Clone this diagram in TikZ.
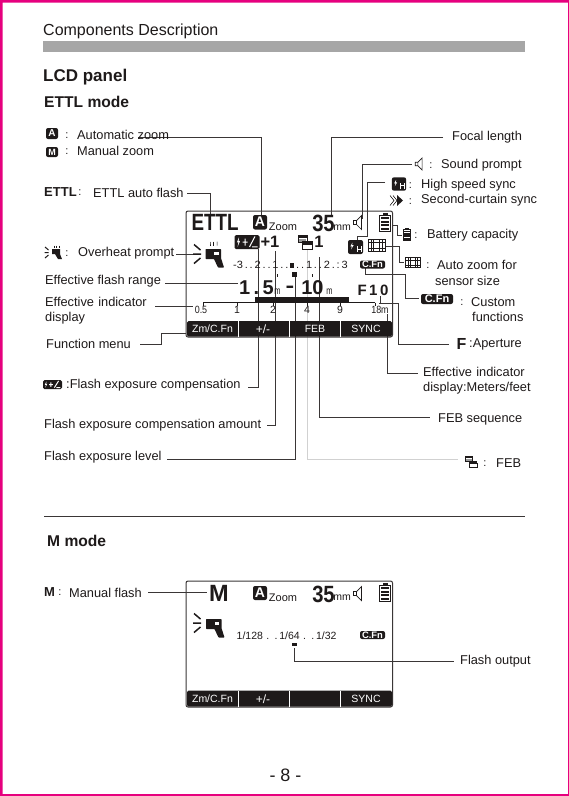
\documentclass[tikz,border=0pt]{standalone}
\usepackage{fontspec}
\setmainfont{Liberation Sans}
\usetikzlibrary{calc}
\definecolor{ink}{HTML}{1E1A1A}
\definecolor{lin}{HTML}{3A3636}
\definecolor{edgepink}{HTML}{E6007E}
\newcommand{\sxx}[2]{\scalebox{#1}[1]{#2}}
\tikzset{x=1pt,y=-1pt,
 lab/.style={inner sep=0,anchor=west,text=ink,font=\fontsize{12.8}{15.3}\selectfont,align=left},
 colon/.style={inner sep=0,text=ink,font=\fontsize{11}{11}\selectfont},
 head/.style={inner sep=0,anchor=west,text=ink,font=\fontsize{15.6}{18}\selectfont\bfseries},
 lead/.style={draw=lin,line width=.75pt},
 lcd/.style={draw=lin,line width=1pt,rounded corners=2pt},
 lt/.style={inner sep=0,text=ink,font=\fontsize{10.5}{11}\selectfont},
 bigt/.style={inner sep=0,text=ink,font=\fontsize{23.5}{24}\selectfont\bfseries},
 midt/.style={inner sep=0,text=ink,font=\fontsize{20}{20}\selectfont\bfseries},
 chip/.style={fill=ink,text=white,rounded corners=2pt,inner sep=0,align=center,font=\bfseries},
 menu/.style={text=white,inner sep=0,anchor=center,font=\fontsize{10.5}{11}\selectfont},
}
\newcommand{\iconspk}[2][1]{\begin{scope}[shift={#2},scale=#1]\draw[ink,line width=.7pt] (-5.5,-2) rectangle (-2.5,2) (-2.5,-2) -- (2.5,-7) -- (2.5,7) -- (-2.5,2);\end{scope}}
\newcommand{\iconbat}[2][1]{\begin{scope}[shift={#2},scale=#1]\draw[ink,line width=1pt] (-5.5,-7) rectangle (5.5,9);\fill[ink] (-2.5,-9) rectangle (2.5,-7);\foreach \yy in {-5,-1.5,2,5.5}{\fill[ink] (-3.8,\yy) rectangle (3.8,\yy+2.4);}\end{scope}}
\newcommand{\iconfilm}[2][1]{\begin{scope}[shift={#2},scale=#1]\draw[ink,line width=.8pt] (-8.5,-6) rectangle (8.5,6);\foreach \xx in {-5.5,-3,3,5.5}{\draw[ink,line width=.6pt] (\xx,-6) -- (\xx,6);}\draw[ink,line width=.6pt] (-8.5,-3) -- (8.5,-3) (-8.5,3) -- (8.5,3);\end{scope}}
\newcommand{\icongun}[1]{\begin{scope}[shift={#1}]\fill[ink,rounded corners=.6pt] (-9.5,-9) -- (6,-9) -- (6,0) -- (9,9.5) -- (3,9.5) -- (-1,1) -- (-9.5,1) -- cycle;\fill[white] (-1,-6.5) rectangle (3.5,-3);\end{scope}}
\newcommand{\iconrays}[1]{\begin{scope}[shift={#1}]\draw[ink,line width=1.5pt] (-3.5,-9.5) -- (3,-4) (-4.5,0) -- (3.5,0) (-3.5,9.5) -- (3,4);\end{scope}}
\newcommand{\iconfeb}[2][1]{\begin{scope}[shift={#2},scale=#1]\draw[ink,line width=.8pt] (-7,-7) rectangle (2,0);\fill[ink] (-6.5,-6.5) rectangle (1.5,-4);\fill[black!40] (-6,-3.5) rectangle (1,-.5);\fill[ink] (-3,-1) rectangle (8,2);\draw[ink,line width=1pt,fill=white] (-2.5,2) rectangle (7.5,7);\end{scope}}
\newcommand{\iconbolt}[1]{\fill[white,shift={#1}] (.5,-3.4) -- (-1.6,.3) -- (-.1,.3) -- (-.9,3.4) -- (1.6,-.8) -- (.1,-.8) -- cycle;}
\newcommand{\iconfec}[3][1]{\begin{scope}[shift={#2},xscale=#1,yscale=#3]\fill[ink,rounded corners=1.5pt] (-12.5,-5) rectangle (12.5,5);\iconbolt{(-8.5,0)}\draw[white,line width=1pt] (-4.5,0) -- (.5,0) (-2,-2.5) -- (-2,2.5) (8,-4) -- (2.5,3.5) (5,3.5) -- (10.5,3.5);\end{scope}}
\newcommand{\iconhs}[2][1]{\begin{scope}[shift={#2},scale=#1]\fill[ink,rounded corners=2pt] (-7.5,-7) rectangle (7.5,7);\iconbolt{(-3.5,-1)}\draw[white,line width=.9pt] (1.5,-1) -- (1.5,5) (5.5,-1) -- (5.5,5) (1.5,2) -- (5.5,2);\end{scope}}
\newcommand{\iconscurt}[1]{\begin{scope}[shift={#1}]\draw[ink,line width=.6pt] (-9,-5) -- (-5,0) -- (-9,5) (-6,-5) -- (-2,0) -- (-6,5);\fill[ink] (-2,-5.5) -- (4,0) -- (-2,5.5) -- cycle;\end{scope}}
\begin{document}
\begin{tikzpicture}
\useasboundingbox (0,0) rectangle (569,796);
\fill[white] (0,0) rectangle (569,796);
% leaders (under the LCD contents)
\draw[lead] (138,137) -- (261,137) -- (261,215);
\draw[lead] (187,193) -- (210,193) -- (210,214);
\draw[lead] (443,137) -- (331,137) -- (331,216);
\draw[lead] (412,164) -- (362,164) -- (362,219);
\draw[lead] (385,182) -- (367,182) -- (367,236) -- (357,236) -- (357,240);
\draw[lead] (392,225) -- (397,225) -- (397,235) -- (402,235);
\draw[lead] (385,246.5) -- (399,246.5) -- (399,262) -- (404,262);
\draw[lead] (365,268) -- (365,274) -- (405,274) -- (405,298) -- (419,298);
\draw[lead] (380,296) -- (380,303);
\draw[lead] (379,303) -- (398,303) -- (398,344) -- (449,344);
\draw[lead] (387,314) -- (387,373) -- (418,373);
\draw[lead] (319,257) -- (319,417) -- (430,417);
\draw[line width=.9pt,black!18] (307,250) -- (307,459) -- (458,459);
\draw[lead] (295,277) -- (295,459) -- (167,459);
\draw[lead] (275.5,251) -- (275.5,425) -- (267,425);
\draw[lead] (258,249) -- (258,387) -- (248,387);
\draw[lead] (176,254) -- (193,254);
\draw[lead] (165,283) -- (238,283);
\draw[lead] (155,306) -- (193,306);
\draw[lead] (140,344) -- (161,344) -- (161,333) -- (186,333);
\draw[lead] (294.5,648) -- (294.5,661) -- (454,661);
\draw[lead] (148,592) -- (207,592);
% page edge
\fill[edgepink] (0,0) rectangle (569,2.5) (0,0) rectangle (2.5,796) (0,794) rectangle (569,796) (568,0) rectangle (569,796);
% header
\node[inner sep=0,anchor=west,text=ink,font=\fontsize{16}{18}\selectfont] (title) at (43,31) {Components Description};
\fill[black!35] (43,41) rectangle (525,52);
\node[head,font=\fontsize{17}{19}\selectfont\bfseries] (lcdh) at (43,77) {LCD panel};
\node[head] (ettlh) at (44,102) {ETTL mode};
% left labels
\fill[ink,rounded corners=2pt] (46,128) rectangle (58,139);
\node[inner sep=0,text=white,font=\fontsize{10}{10}\selectfont\bfseries] (ia) at (52,133.5) {A};
\node[colon] at (67,136) {:};
\node[lab] (az) at (77,135) {Automatic zoom};
\fill[ink,rounded corners=2pt] (46,147) rectangle (58,157);
\node[inner sep=0,text=white,font=\fontsize{9}{9}\selectfont\bfseries] (im) at (52,152) {M};
\node[colon] at (67,152) {:};
\node[lab] (mz) at (77,151) {Manual zoom};
\node[lab,font=\fontsize{13}{14}\selectfont\bfseries] (et) at (44,192.5) {ETTL};
\node[colon] at (80,193) {:};
\node[lab] (ea) at (93,192.5) {ETTL auto flash};
% overheat icon
\draw[ink,line width=1pt] (45,247) -- (48.5,250) (44.5,252.5) -- (48.5,252.5) (45,258) -- (48.5,255);
\fill[ink] (52,249) rectangle (60,254) (55,254) -- (60,254) -- (62,259) -- (58,259) -- cycle;
\draw[ink,line width=.5pt] (54,245.5) -- (54,248) (56.5,245.5) -- (56.5,248) (59,245.5) -- (59,248);
\node[colon] at (67,254) {:};
\node[lab] (ovh) at (78,253) {Overheat prompt};
\node[lab] (efr) at (45,281) {Effective flash range};
\node[lab,text width=120pt] (eid) at (45,310.5) {Effective indicator\\display};
\node[lab] (fm) at (46,344) {Function menu};
\iconfec[.76]{(52.5,384.5)}{.9}
\node[lab] (fec) at (66,385.5) {:Flash exposure compensation};
\node[lab] (feca) at (44,425.5) {Flash exposure compensation amount};
\node[lab] (fel) at (44,457) {Flash exposure level};
% right labels
\node[lab] (fl) at (452,137) {Focal length};
\iconspk[.85]{(420,164)}
\node[colon] at (431,166) {:};
\node[lab] (sp) at (441,165) {Sound prompt};
\iconhs[.95]{(399,184)}
\node[colon] at (410.5,186) {:};
\node[lab] (hs) at (421,185) {High speed sync};
\iconscurt{(399,200.5)}
\node[colon] at (410.5,201.5) {:};
\node[lab] (sc) at (421,200) {Second-curtain sync};
\iconbat[.7]{(407,234)}
\node[colon] at (416,236) {:};
\node[lab] (bc) at (427,235) {Battery capacity};
\iconfilm[.85]{(413,262.5)}
\node[colon] at (428,266) {:};
\node[lab] (azs) at (437,264.5) {Auto zoom for};
\node[lab] (azs2) at (435,280.5) {sensor size};
\node[chip,minimum width=32pt,minimum height=10pt,font=\fontsize{11}{11}\selectfont\bfseries] (cfn) at (437,299) {C.Fn};
\node[colon] at (462,303) {:};
\node[lab] (cu) at (471,302) {Custom};
\node[lab] (cu2) at (472,317) {functions};
\node[lab,font=\fontsize{16}{16}\selectfont\bfseries] (ff) at (456.5,343.5) {F};
\node[lab] (ap) at (469,344) {:Aperture};
\node[lab,text width=120pt] (eim) at (423,380.5) {Effective indicator\\display:Meters/feet};
\node[lab] (fs) at (438,419) {FEB sequence};
\iconfeb[.8]{(471,461.5)}
\node[colon] at (485,464) {:};
\node[lab] (fb) at (496,463.5) {FEB};
% ===== LCD 1
\draw[lcd] (186,211) rectangle (392.5,337);
\fill[ink,rounded corners=1.5pt] (187,321) rectangle (392,336.5);
\foreach \xx in {238,289,340}{\draw[white,line width=.8pt] (\xx,321) -- (\xx,337);}
\node[menu] (m1) at (212.5,329) {Zm/C.Fn};
\node[menu,font=\fontsize{12}{12}\selectfont] (m2) at (263,329) {+/-};
\node[menu] (m3) at (315,329) {FEB};
\node[menu] (m4) at (366,329) {SYNC};
\node[bigt] (ettl) at (215,222.5) {\sxx{.8}{ETTL}};
\fill[ink,rounded corners=2pt] (253,215) rectangle (267,229.5);
\node[inner sep=0,text=white,font=\fontsize{14}{14}\selectfont\bfseries] (aa) at (260,222) {A};
\node[lt,font=\fontsize{11}{11}\selectfont] (zoom) at (283,227) {Zoom};
\node[bigt] (n35) at (323.5,223) {\sxx{.86}{35}};
\node[lt] (mm) at (342,228) {mm};
\iconspk{(359,222.5)}
\iconbat{(385,222)}
\iconfec{(247,242)}{1.4}
\node[midt,font=\fontsize{16.5}{16}\selectfont\bfseries] (p1) at (270,242) {+1};
\iconfeb{(305,242)}
\node[midt,font=\fontsize{16.5}{16}\selectfont\bfseries] (f1) at (319,242) {1};
\iconhs{(355.5,247)}
\iconfilm{(376.5,245.5)}
\iconrays{(197.5,254)}
\icongun{(215,258)}
\foreach \xx in {210,213.5,217}{\draw[ink,line width=.5pt] (\xx,241.5) .. controls (\xx+1,243) and (\xx-1,244) .. (\xx,245.5);}
\node[lt,anchor=west] (scale) at (233,264.5) {\sxx{1.05}{-3\,.\,.\,2\,.\,.\,1\,.\,.\,\rule[.5pt]{4pt}{5pt}\,.\,.\,1\,.\,.\,2\,.\,:\,3}};
\node[chip,minimum width=25pt,minimum height=8pt,font=\fontsize{9.4}{9}\selectfont\bfseries] (cf2) at (372.5,264.5) {C.Fn};
\foreach \xx in {277,312}{\fill[ink] (\xx-.5,274) rectangle (\xx+.5,277);}
\fill[ink] (292,272) rectangle (297,277);
\node[midt,anchor=west] (r1) at (239,288) {1\,.\,5};
\node[lt] (mm2) at (277.5,291.5) {\sxx{.7}{m}};
\node[midt] (r3) at (290,289) {\sxx{1.3}{-}};
\node[midt] (r4) at (312.5,288) {10};
\node[lt] (mm3) at (329.5,291.5) {\sxx{.7}{m}};
\node[midt,font=\fontsize{15}{15}\selectfont\bfseries] (f10) at (373,290) {F\,1\,0};
\fill[ink] (255,297) rectangle (349,302);
\draw[ink,line width=.7pt] (203,302.5) -- (375,302.5);
\foreach \xx in {203,237,273,307,340,375}{\draw[ink,line width=.7pt] (\xx,302.5) -- (\xx,306);}
\node[lt] (s1) at (201,309.5) {\sxx{.85}{0.5}};
\node[lt] (s2) at (237,309.5) {1};
\node[lt] (s3) at (273,309.5) {2};
\node[lt] (s4) at (307,309.5) {4};
\node[lt] (s5) at (340,309.5) {9};
\node[lt] (m18) at (380,309.5) {\sxx{.85}{18m}};
% divider
\draw[line width=.8pt,lin] (44,516) -- (525,516);
\node[head] (mh) at (47,541) {M mode};
\node[lab,font=\fontsize{13}{14}\selectfont\bfseries] (mm4) at (44,592) {M};
\node[colon] at (60,592.5) {:};
\node[lab] (mf) at (69,592.5) {Manual flash};
\node[lab] (fo) at (460,661) {Flash output};
% ===== LCD 2
\draw[lcd] (186,581) rectangle (392.5,707);
\fill[ink,rounded corners=1.5pt] (187,690.5) rectangle (392,706.5);
\foreach \xx in {238,289,340}{\draw[white,line width=.8pt] (\xx,690.5) -- (\xx,707);}
\node[menu] (n1) at (212.5,699) {Zm/C.Fn};
\node[menu,font=\fontsize{12}{12}\selectfont] (n2) at (263,699) {+/-};
\node[menu] (n4) at (366,699) {SYNC};
\node[bigt] (mbig) at (219,593) {M};
\fill[ink,rounded corners=2pt] (253,586) rectangle (267,600);
\node[inner sep=0,text=white,font=\fontsize{14}{14}\selectfont\bfseries] (ab) at (260,592.5) {A};
\node[lt,font=\fontsize{11}{11}\selectfont] (zoomb) at (283,597.5) {Zoom};
\node[bigt] (n35b) at (323.5,594) {\sxx{.86}{35}};
\node[lt] (mmb) at (342,598) {mm};
\iconspk{(359,593.5)}
\iconbat{(385,592)}
\iconrays{(197.5,623)}
\icongun{(215.5,628)}
\node[lt,anchor=west] (sc2) at (236.5,635.5) {\sxx{1}{1/128\,\,.\,\,\,.\,1/64\,\,.\,\,\,.\,1/32}};
\node[chip,minimum width=25pt,minimum height=8pt,font=\fontsize{9.4}{9}\selectfont\bfseries] (cf3) at (372.5,635) {C.Fn};
\fill[ink] (292,642.5) rectangle (297,646);
% page number
\node[inner sep=0,text=ink,font=\fontsize{18}{18}\selectfont] (pg) at (285.5,775) {- 8 -};
\end{tikzpicture}
\end{document}
